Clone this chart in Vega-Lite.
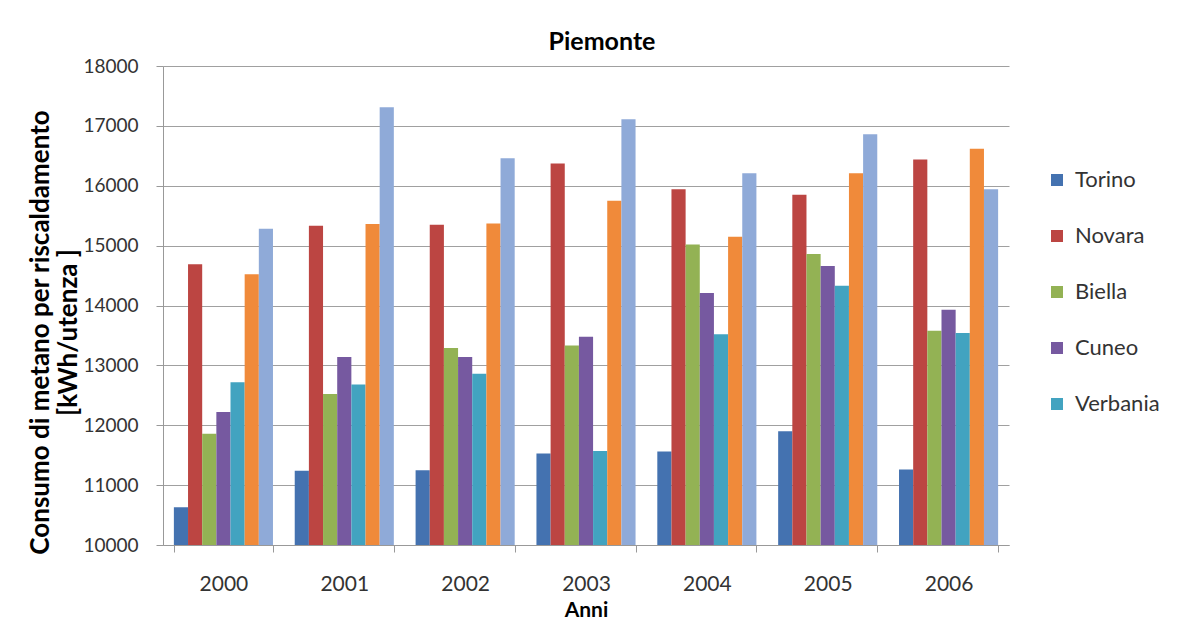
{
  "$schema": "https://vega.github.io/schema/vega-lite/v6.json",
  "width": 846,
  "height": 479,
  "autosize": {"type": "none"},
  "padding": {"left": 163, "top": 66, "right": 171, "bottom": 82},
  "background": "white",
  "title": {"text": "Piemonte", "font": "Lato", "fontSize": 25, "fontWeight": "bold", "color": "#000", "anchor": "middle", "dx": 16, "offset": 2},
  "data": {"values": [
    {"anno": "2000", "serie": "Torino", "valore": 10630},
    {"anno": "2000", "serie": "Novara", "valore": 14690},
    {"anno": "2000", "serie": "Biella", "valore": 11860},
    {"anno": "2000", "serie": "Cuneo", "valore": 12220},
    {"anno": "2000", "serie": "Verbania", "valore": 12720},
    {"anno": "2000", "serie": "Serie 6", "valore": 14520},
    {"anno": "2000", "serie": "Serie 7", "valore": 15280},
    {"anno": "2001", "serie": "Torino", "valore": 11240},
    {"anno": "2001", "serie": "Novara", "valore": 15330},
    {"anno": "2001", "serie": "Biella", "valore": 12520},
    {"anno": "2001", "serie": "Cuneo", "valore": 13140},
    {"anno": "2001", "serie": "Verbania", "valore": 12680},
    {"anno": "2001", "serie": "Serie 6", "valore": 15360},
    {"anno": "2001", "serie": "Serie 7", "valore": 17310},
    {"anno": "2002", "serie": "Torino", "valore": 11250},
    {"anno": "2002", "serie": "Novara", "valore": 15350},
    {"anno": "2002", "serie": "Biella", "valore": 13290},
    {"anno": "2002", "serie": "Cuneo", "valore": 13140},
    {"anno": "2002", "serie": "Verbania", "valore": 12860},
    {"anno": "2002", "serie": "Serie 6", "valore": 15370},
    {"anno": "2002", "serie": "Serie 7", "valore": 16460},
    {"anno": "2003", "serie": "Torino", "valore": 11530},
    {"anno": "2003", "serie": "Novara", "valore": 16370},
    {"anno": "2003", "serie": "Biella", "valore": 13330},
    {"anno": "2003", "serie": "Cuneo", "valore": 13480},
    {"anno": "2003", "serie": "Verbania", "valore": 11570},
    {"anno": "2003", "serie": "Serie 6", "valore": 15750},
    {"anno": "2003", "serie": "Serie 7", "valore": 17110},
    {"anno": "2004", "serie": "Torino", "valore": 11560},
    {"anno": "2004", "serie": "Novara", "valore": 15940},
    {"anno": "2004", "serie": "Biella", "valore": 15020},
    {"anno": "2004", "serie": "Cuneo", "valore": 14210},
    {"anno": "2004", "serie": "Verbania", "valore": 13520},
    {"anno": "2004", "serie": "Serie 6", "valore": 15150},
    {"anno": "2004", "serie": "Serie 7", "valore": 16210},
    {"anno": "2005", "serie": "Torino", "valore": 11900},
    {"anno": "2005", "serie": "Novara", "valore": 15850},
    {"anno": "2005", "serie": "Biella", "valore": 14860},
    {"anno": "2005", "serie": "Cuneo", "valore": 14660},
    {"anno": "2005", "serie": "Verbania", "valore": 14330},
    {"anno": "2005", "serie": "Serie 6", "valore": 16210},
    {"anno": "2005", "serie": "Serie 7", "valore": 16860},
    {"anno": "2006", "serie": "Torino", "valore": 11260},
    {"anno": "2006", "serie": "Novara", "valore": 16440},
    {"anno": "2006", "serie": "Biella", "valore": 13580},
    {"anno": "2006", "serie": "Cuneo", "valore": 13930},
    {"anno": "2006", "serie": "Verbania", "valore": 13540},
    {"anno": "2006", "serie": "Serie 6", "valore": 16620},
    {"anno": "2006", "serie": "Serie 7", "valore": 15940}
  ]},
  "mark": {"type": "bar", "clip": true},
  "encoding": {
    "x": {
      "field": "anno", "type": "nominal",
      "scale": {"paddingInner": 0.18, "paddingOuter": 0.09},
      "axis": {
        "title": "Anni", "titleFont": "Lato", "titleFontSize": 21, "titleFontWeight": "bold", "titleColor": "#000",
        "titleBaseline": "middle", "titleY": 65,
        "labelAngle": 0, "labelFont": "Lato", "labelFontSize": 21, "labelColor": "#333", "labelPadding": 21,
        "tickBand": "extent", "tickSize": 7, "tickColor": "#999", "domainColor": "#999", "grid": false
      }
    },
    "xOffset": {
      "field": "serie", "type": "nominal",
      "scale": {"domain": ["Torino", "Novara", "Biella", "Cuneo", "Verbania", "Serie 6", "Serie 7"], "paddingInner": 0, "paddingOuter": 0}
    },
    "y": {
      "field": "valore", "type": "quantitative",
      "scale": {"domain": [10000, 18000], "zero": false, "nice": false},
      "axis": {
        "values": [10000, 11000, 12000, 13000, 14000, 15000, 16000, 17000, 18000],
        "format": "d",
        "title": ["Consumo di metano per riscaldamento", "[kWh/utenza ]"],
        "titleFont": "Lato", "titleFontSize": 26, "titleFontWeight": "bold", "titleColor": "#000",
        "titleAngle": -90, "titleAlign": "center", "titleBaseline": "middle", "titleLineHeight": 28,
        "titleX": -123, "titleY": 266,
        "labelFont": "Lato", "labelFontSize": 19, "labelColor": "#333", "labelPadding": 18,
        "tickSize": 7, "tickColor": "#999", "domainColor": "#999",
        "grid": true, "gridColor": "#a0a0a0", "gridWidth": 1
      }
    },
    "color": {
      "field": "serie", "type": "nominal",
      "scale": {
        "domain": ["Torino", "Novara", "Biella", "Cuneo", "Verbania", "Serie 6", "Serie 7"],
        "range": ["#4472B0", "#BC4542", "#93B254", "#7659A0", "#42A3C0", "#F08A3A", "#8FAAD8"]
      },
      "legend": {
        "values": ["Torino", "Novara", "Biella", "Cuneo", "Verbania"],
        "title": null, "orient": "none", "legendX": 883, "legendY": 103, "direction": "vertical",
        "symbolType": "square", "symbolSize": 144, "symbolStrokeWidth": 0,
        "labelFont": "Lato", "labelFontSize": 22, "labelColor": "#333", "rowPadding": 34, "labelOffset": 7
      }
    }
  },
  "config": {"view": {"stroke": null}}
}
